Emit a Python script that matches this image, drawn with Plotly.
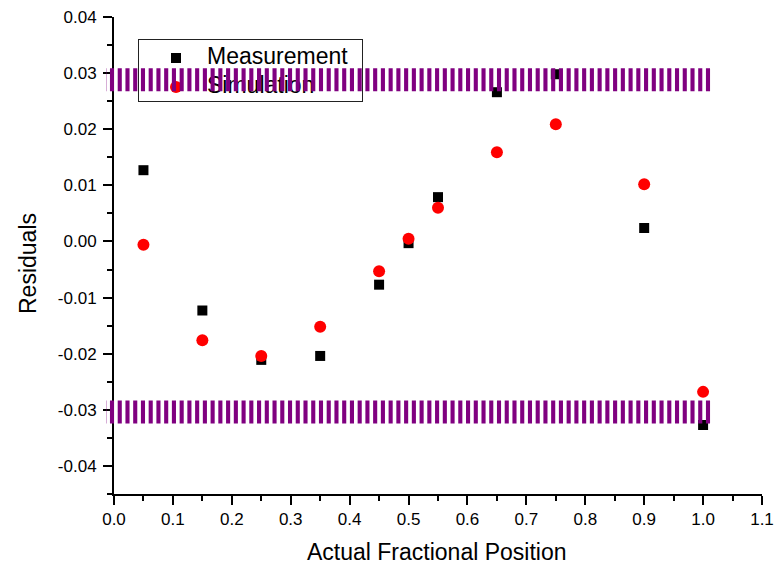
import plotly.graph_objects as go

# ---------------- data ----------------
x_pos = [0.05, 0.15, 0.25, 0.35, 0.45, 0.50, 0.55, 0.65, 0.75, 0.90, 1.00]
measurement = [0.0127, -0.0123, -0.0211, -0.0204, -0.0077, -0.0003, 0.0079, 0.0266, 0.0298, 0.0024, -0.0327]
simulation = [-0.0006, -0.0176, -0.0204, -0.0152, -0.0053, 0.0005, 0.0060, 0.0159, 0.0209, 0.0102, -0.0268]
series_names = ["Measurement", "Simulation"]
band_levels = [0.0288, -0.0304]
band_x = [-0.02, 1.013]
x_ticks = [0.0, 0.1, 0.2, 0.3, 0.4, 0.5, 0.6, 0.7, 0.8, 0.9, 1.0, 1.1]
x_tick_labels = ["0.0", "0.1", "0.2", "0.3", "0.4", "0.5", "0.6", "0.7", "0.8", "0.9", "1.0", "1.1"]
y_ticks = [-0.04, -0.03, -0.02, -0.01, 0.0, 0.01, 0.02, 0.03, 0.04]
y_tick_labels = ["-0.04", "-0.03", "-0.02", "-0.01", "0.00", "0.01", "0.02", "0.03", "0.04"]
x_title = "Actual Fractional Position"
y_title = "Residuals"

# ---------------- layout geometry ----------------
W, H = 778, 567
L, R, T, B = 100, 16, 17, 73
plot_w = W - L - R
plot_h = H - T - B
axis_left_px = 114
x_range = [0.0, 1.1]
y_range = [-0.045, 0.04]
dom0 = (axis_left_px - L) / plot_w
px_per_unit = (W - R - axis_left_px) / (x_range[1] - x_range[0])
band_left_px = 106
band_dom0 = (band_left_px - L) / plot_w
band_range = [x_range[0] - (axis_left_px - band_left_px) / px_per_unit, x_range[1]]

leg_px = dict(x0=139, x1=362, y0=40, y1=101)
leg_dom_x = [(leg_px["x0"] - L) / plot_w, (leg_px["x1"] - L) / plot_w]
leg_dom_y = [1 - (leg_px["y1"] - T) / plot_h, 1 - (leg_px["y0"] - T) / plot_h]
leg_key_x = 0.166
leg_text_x = 0.305
leg_rows = [0.705, 0.23]

x_title_px = (437, 552)
y_title_px = (28, 264)

x_minor = [(a + b) / 2 for a, b in zip(x_ticks[:-1], x_ticks[1:])]
y_minor = [y_ticks[0] - (y_ticks[1] - y_ticks[0]) / 2] + [(a + b) / 2 for a, b in zip(y_ticks[:-1], y_ticks[1:])]

FONT = "Liberation Sans, Arial, sans-serif"
PURPLE = "#800080"

fig = go.Figure()

fig.add_trace(go.Scatter(x=x_pos, y=measurement, mode="markers", name=series_names[0],
                         marker=dict(symbol="square", size=10, color="black", line=dict(width=0)),
                         xaxis="x", yaxis="y", showlegend=False))
fig.add_trace(go.Scatter(x=x_pos, y=simulation, mode="markers", name=series_names[1],
                         marker=dict(symbol="circle", size=12, color="#ff0000", line=dict(width=0)),
                         xaxis="x", yaxis="y", showlegend=False))

# legend box (drawn beneath the bands, as in the original)
leg_symbols = ["square", "circle"]
leg_sizes = [10, 12]
leg_colors = ["black", "#ff0000"]
for name, sym, sz, col, ry in zip(series_names, leg_symbols, leg_sizes, leg_colors, leg_rows):
    fig.add_trace(go.Scatter(x=[leg_key_x], y=[ry], mode="markers",
                             marker=dict(symbol=sym, size=sz, color=col, line=dict(width=0)),
                             xaxis="x2", yaxis="y2", showlegend=False, hoverinfo="skip"))
    fig.add_trace(go.Scatter(x=[leg_text_x], y=[ry], mode="text", text=[name],
                             textposition="middle right",
                             textfont=dict(family=FONT, size=23, color="black"),
                             xaxis="x2", yaxis="y2", showlegend=False, hoverinfo="skip"))

# striped purple bands
for lvl in band_levels:
    fig.add_trace(go.Scatter(x=band_x, y=[lvl, lvl], mode="lines",
                             line=dict(color=PURPLE, width=23, dash="4.1px,3.64px"),
                             xaxis="x3", yaxis="y", showlegend=False, hoverinfo="skip"))

tick_font = dict(family=FONT, size=17, color="black")
common = dict(showgrid=False, zeroline=False, showline=True, linecolor="black", linewidth=2,
              tickcolor="black", tickwidth=2, ticklen=9, automargin=False)

fig.update_layout(
    width=W, height=H, autosize=False,
    margin=dict(l=L, r=R, t=T, b=B, pad=0, autoexpand=False),
    paper_bgcolor="white", plot_bgcolor="rgba(0,0,0,0)",
    font=dict(family=FONT, color="black"),
    showlegend=False,
    xaxis=dict(domain=[dom0, 1], range=x_range, anchor="y", tickmode="array",
               tickvals=x_ticks, ticktext=x_tick_labels, ticks="outside", tickfont=tick_font,
               minor=dict(tickmode="array", tickvals=x_minor, ticks="outside", ticklen=5,
                          tickwidth=2, tickcolor="black"),
               **common),
    yaxis=dict(domain=[0, 1], range=y_range, anchor="x", tickmode="array",
               tickvals=y_ticks, ticktext=y_tick_labels, ticks="outside", tickfont=tick_font,
               ticklabelstandoff=3,
               minor=dict(tickmode="array", tickvals=y_minor, ticks="outside", ticklen=5,
                          tickwidth=2, tickcolor="black"),
               **common),
    xaxis4=dict(overlaying="x", side="top", anchor="y", range=x_range, tickmode="array",
                tickvals=x_ticks, showticklabels=False, ticks="inside",
                minor=dict(tickmode="array", tickvals=x_minor, ticks="inside", ticklen=5,
                           tickwidth=2, tickcolor="black"),
                **common),
    yaxis4=dict(overlaying="y", side="right", anchor="x", range=y_range, tickmode="array",
                tickvals=y_ticks, showticklabels=False, ticks="inside",
                minor=dict(tickmode="array", tickvals=y_minor, ticks="inside", ticklen=5,
                           tickwidth=2, tickcolor="black"),
                **common),
    xaxis2=dict(domain=leg_dom_x, range=[0, 1], anchor="y2", showgrid=False, zeroline=False,
                showticklabels=False, ticks="", showline=True, mirror=True, linecolor="#222",
                linewidth=1, fixedrange=True, automargin=False),
    yaxis2=dict(domain=leg_dom_y, range=[0, 1], anchor="x2", showgrid=False, zeroline=False,
                showticklabels=False, ticks="", showline=True, mirror=True, linecolor="#222",
                linewidth=1, fixedrange=True, automargin=False),
    xaxis3=dict(domain=[band_dom0, 1], range=band_range, anchor="y", visible=False,
                showgrid=False, zeroline=False, automargin=False),
)

# axis titles
title_font = dict(family=FONT, size=23, color="black")
fig.add_annotation(text=x_title, xref="paper", yref="paper",
                   x=(x_title_px[0] - L) / plot_w, y=1 - (x_title_px[1] - T) / plot_h,
                   xanchor="center", yanchor="middle", showarrow=False, font=title_font)
fig.add_annotation(text=y_title, xref="paper", yref="paper", textangle=-90,
                   x=(y_title_px[0] - L) / plot_w, y=1 - (y_title_px[1] - T) / plot_h,
                   xanchor="center", yanchor="middle", showarrow=False, font=title_font)

fig.write_html("out.html")
